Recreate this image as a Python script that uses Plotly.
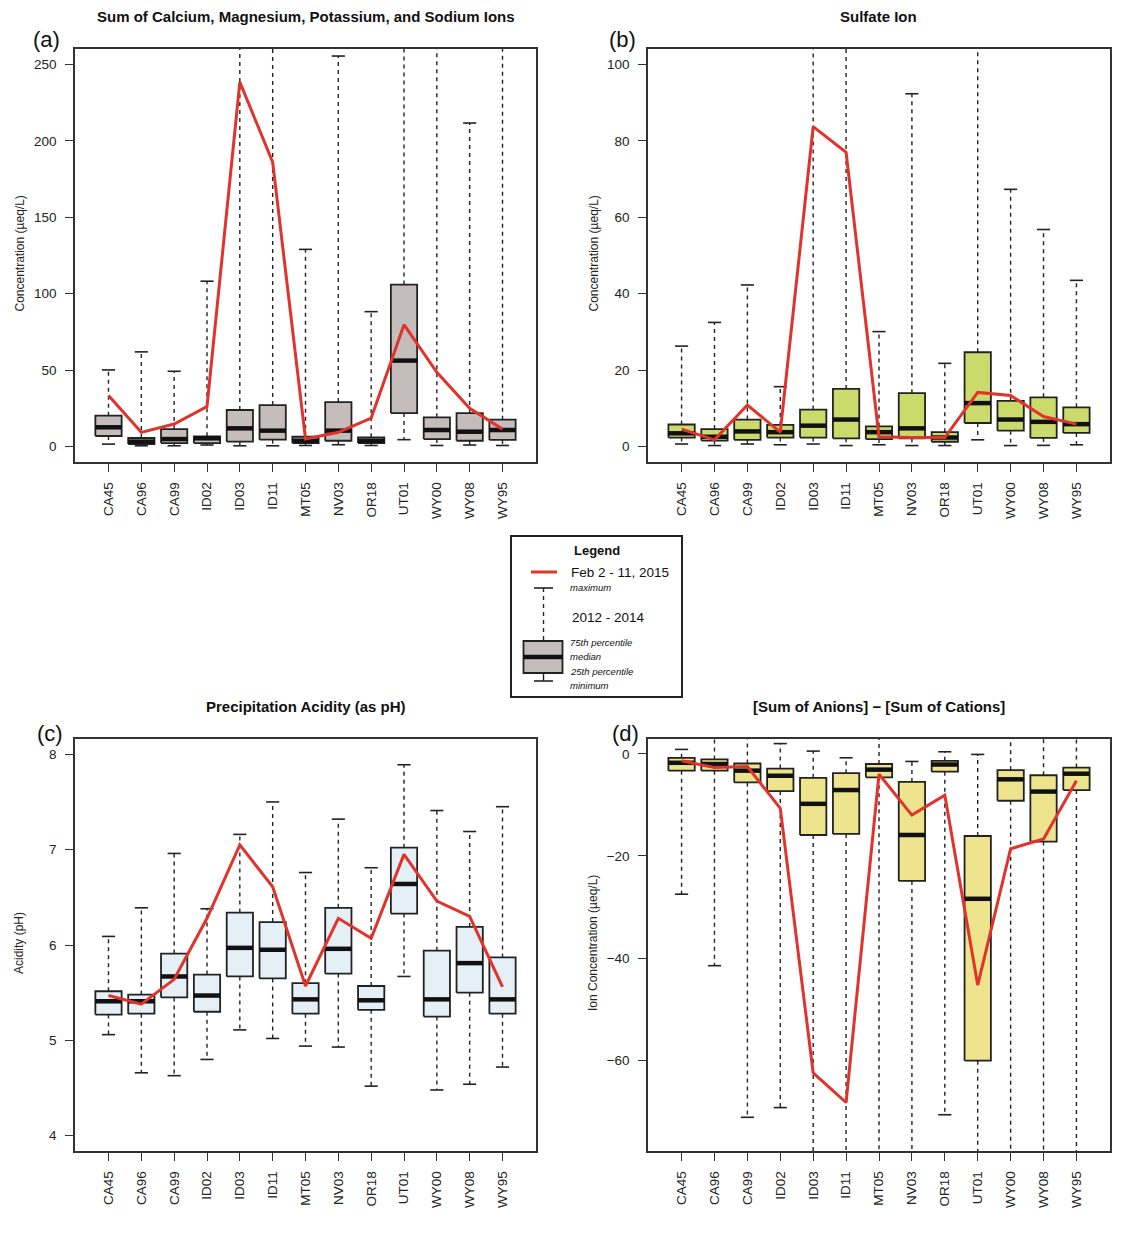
import plotly.graph_objects as go

PAGE_W, PAGE_H = 1139, 1237
OFF = 8  # default body margin of the html page
W, H = PAGE_W - OFF, PAGE_H - OFF
FONT = "Arial, Liberation Sans, sans-serif"

sites = ["CA45", "CA96", "CA99", "ID02", "ID03", "ID11", "MT05",
         "NV03", "OR18", "UT01", "WY00", "WY08", "WY95"]

# (a) Sum of Ca, Mg, K, Na (ueq/L)
a_min = [1.7, 0.6, 0.6, 1.1, 0.6, 0.6, 0.8, 1.3, 0.8, 4.6, 0.8, 1.1, 0.8]
a_q1  = [7.0, 1.7, 2.4, 2.4, 3.3, 4.6, 2.4, 3.9, 2.4, 22.0, 5.0, 3.9, 4.4]
a_med = [12.7, 3.3, 5.0, 5.5, 12.0, 10.5, 3.9, 10.5, 3.9, 56.3, 10.9, 9.8, 10.9]
a_q3  = [20.3, 5.7, 11.5, 6.8, 24.0, 27.2, 6.5, 29.2, 6.1, 106.0, 19.2, 22.0, 17.7]
a_max = [50.2, 62.0, 49.3, 108.2, 330.0, 290.0, 129.0, 255.4, 88.3, 420.0, 280.0, 211.6, 270.0]
a_2015 = [33.4, 9.4, 14.8, 26.2, 238.4, 186.0, 5.0, 9.4, 18.7, 79.8, 48.6, 25.1, 11.5]

# (b) Sulfate (ueq/L)
b_min = [0.7, 0.3, 0.7, 0.5, 0.7, 0.3, 0.5, 0.3, 0.3, 1.8, 0.3, 0.35, 0.5]
b_q1  = [2.4, 1.6, 1.8, 2.4, 2.4, 2.2, 2.0, 2.2, 1.3, 6.2, 4.2, 2.3, 3.6]
b_med = [3.5, 2.6, 4.0, 3.8, 5.5, 7.1, 3.8, 4.8, 2.4, 11.4, 7.1, 6.5, 5.9]
b_q3  = [5.8, 4.6, 7.1, 5.7, 9.7, 15.1, 5.3, 14.0, 3.8, 24.7, 12.0, 12.9, 10.3]
b_max = [26.3, 32.5, 42.3, 15.7, 130.0, 120.0, 30.1, 92.3, 21.8, 115.0, 67.3, 56.8, 43.5]
b_2015 = [4.6, 1.8, 10.9, 3.8, 83.7, 77.0, 2.6, 2.4, 2.4, 14.2, 13.4, 7.9, 5.9]

# (c) Precipitation acidity (pH)
c_min = [5.06, 4.66, 4.63, 4.80, 5.11, 5.02, 4.94, 4.93, 4.52, 5.67, 4.48, 4.54, 4.72]
c_q1  = [5.27, 5.28, 5.45, 5.30, 5.67, 5.65, 5.28, 5.70, 5.32, 6.33, 5.25, 5.50, 5.28]
c_med = [5.41, 5.41, 5.67, 5.47, 5.97, 5.95, 5.43, 5.96, 5.42, 6.64, 5.43, 5.81, 5.43]
c_q3  = [5.515, 5.48, 5.91, 5.69, 6.34, 6.24, 5.60, 6.39, 5.57, 7.02, 5.94, 6.19, 5.87]
c_max = [6.09, 6.39, 6.96, 6.38, 7.16, 7.50, 6.76, 7.32, 6.81, 7.89, 7.41, 7.19, 7.45]
c_2015 = [5.47, 5.38, 5.64, 6.28, 7.05, 6.61, 5.57, 6.28, 6.07, 6.95, 6.46, 6.30, 5.56]

# (d) [Sum of anions] - [Sum of cations] (ueq/L)
d_min = [-27.5, -41.5, -71.2, -69.3, -120.0, -140.0, -90.0, -100.0, -70.7, -170.0, -85.0, -95.0, -90.0]
d_q1  = [-3.3, -3.3, -5.6, -7.3, -15.9, -15.7, -4.6, -24.9, -3.5, -60.1, -9.2, -17.2, -7.1]
d_med = [-1.76, -2.0, -3.3, -4.3, -9.8, -7.1, -3.1, -15.9, -2.1, -28.4, -5.0, -7.4, -3.9]
d_q3  = [-0.78, -1.1, -1.9, -2.9, -4.7, -3.8, -2.0, -5.5, -1.37, -16.1, -3.2, -4.2, -2.7]
d_max = [0.86, 5.0, 6.0, 2.0, 0.53, -0.78, 8.0, -1.5, 0.4, -0.12, 4.0, 5.0, 5.0]
d_2015 = [-1.37, -2.7, -2.5, -10.7, -62.5, -68.3, -4.0, -12.0, -8.1, -45.3, -18.6, -16.7, -5.3]

titles = ["Sum of Calcium, Magnesium, Potassium, and Sodium Ions",
          "Sulfate Ion",
          "Precipitation Acidity (as pH)",
          "[Sum of Anions] \u2212 [Sum of Cations]"]
panel_labels = ["(a)", "(b)", "(c)", "(d)"]
ytitles = ["Concentration (\u00b5eq/L)", "Concentration (\u00b5eq/L)",
           "Acidity (pH)", "Ion Concentration (\u00b5eq/L)"]
yticks = [[0, 50, 100, 150, 200, 250], [0, 20, 40, 60, 80, 100],
          [4, 5, 6, 7, 8], [0, -20, -40, -60]]
yranges = [[-10, 260], [-4, 104], [3.84, 8.16], [-77.8, 2.9]]
fills = ["#C5BDBB", "#CBDB6B", "#E5EFF6", "#EEE48E"]
RED = "#E0332B"
DARK = "#222222"

legend_label = "Feb 2 - 11, 2015"
legend_period = "2012 - 2014"
legend_items = ["maximum", "75th percentile", "median", "25th percentile", "minimum"]

panels = [
    (a_min, a_q1, a_med, a_q3, a_max, a_2015),
    (b_min, b_q1, b_med, b_q3, b_max, b_2015),
    (c_min, c_q1, c_med, c_q3, c_max, c_2015),
    (d_min, d_q1, d_med, d_q3, d_max, d_2015),
]

# plot-area pixel boxes on the page (left, top, right, bottom)
boxes_px = [(75, 49, 536, 462), (648, 49, 1110, 462),
            (75, 739, 536, 1151), (648, 739, 1110, 1151)]


def px(x):
    return (x - OFF) / W


def py(y):
    return 1 - (y - OFF) / H


fig = go.Figure()
BW = 0.4   # box half width
CW = 0.2   # cap half width

for k, (mn, q1, md, q3, mx, red) in enumerate(panels):
    xa = "x" if k == 0 else f"x{k+1}"
    ya = "y" if k == 0 else f"y{k+1}"
    pos = list(range(1, len(sites) + 1))
    wx, wy, cx, cy, bx, by, mxs, mys = [], [], [], [], [], [], [], []
    for i, p in enumerate(pos):
        wx += [p, p, None, p, p, None]
        wy += [q3[i], mx[i], None, q1[i], mn[i], None]
        cx += [p - CW, p + CW, None, p - CW, p + CW, None]
        cy += [mx[i], mx[i], None, mn[i], mn[i], None]
        bx += [p - BW, p + BW, p + BW, p - BW, p - BW, None]
        by += [q1[i], q1[i], q3[i], q3[i], q1[i], None]
        mxs += [p - BW, p + BW, None]
        mys += [md[i], md[i], None]
    fig.add_trace(go.Scatter(x=wx, y=wy, mode="lines", xaxis=xa, yaxis=ya,
                             line=dict(color=DARK, width=1.4, dash="4px,4px"),
                             hoverinfo="skip", showlegend=False))
    fig.add_trace(go.Scatter(x=cx, y=cy, mode="lines", xaxis=xa, yaxis=ya,
                             line=dict(color=DARK, width=1.6),
                             hoverinfo="skip", showlegend=False))
    fig.add_trace(go.Scatter(x=bx, y=by, mode="lines", fill="toself",
                             fillcolor=fills[k], xaxis=xa, yaxis=ya,
                             line=dict(color=DARK, width=1.8),
                             hoverinfo="skip", showlegend=False))
    fig.add_trace(go.Scatter(x=mxs, y=mys, mode="lines", xaxis=xa, yaxis=ya,
                             line=dict(color="#111111", width=4.5),
                             hoverinfo="skip", showlegend=False))
    fig.add_trace(go.Scatter(x=pos, y=red, mode="lines", xaxis=xa, yaxis=ya,
                             line=dict(color=RED, width=3),
                             hoverinfo="skip", showlegend=False))

    l, t, r, b = boxes_px[k]
    axis_common = dict(showline=True, mirror=True, linecolor="#333333",
                       linewidth=1.5, showgrid=False, zeroline=False,
                       ticks="outside", ticklen=8, tickwidth=1.3,
                       tickcolor="#333333",
                       tickfont=dict(family=FONT, size=13.5, color="#222222"))
    xkey = "xaxis" if k == 0 else f"xaxis{k+1}"
    ykey = "yaxis" if k == 0 else f"yaxis{k+1}"
    fig.update_layout(**{
        xkey: dict(domain=[px(l), px(r)], anchor=ya, range=[-0.02, len(sites) + 1.02],
                   tickvals=pos, ticktext=sites, tickangle=-90,
                   ticklabelstandoff=5, **axis_common),
        ykey: dict(domain=[py(b), py(t)], anchor=xa, range=yranges[k],
                   tickvals=yticks[k], ticklabelstandoff=6, **axis_common),
    })
    cxp = (l + r) / 2
    ty = 17 if k < 2 else 706
    fig.add_annotation(x=px(cxp), y=py(ty), xref="paper", yref="paper",
                       text=f"<b>{titles[k]}</b>", showarrow=False,
                       xanchor="center", yanchor="middle",
                       font=dict(family=FONT, size=15, color="#111111"))
    lx = 46 if k == 0 else 622 if k == 1 else 50 if k == 2 else 625
    ly = 40 if k < 2 else 733
    fig.add_annotation(x=px(lx), y=py(ly), xref="paper", yref="paper",
                       text=panel_labels[k], showarrow=False,
                       xanchor="center", yanchor="middle",
                       font=dict(family=FONT, size=22, color="#111111"))
    atx = 19 if k % 2 == 0 else 593
    fig.add_annotation(x=px(atx), y=py((t + b) / 2 - 2), xref="paper", yref="paper",
                       text=ytitles[k], showarrow=False, textangle=-90,
                       xanchor="center", yanchor="middle",
                       font=dict(family=FONT, size=12, color="#222222"))

# ---- legend box (drawn in paper coordinates) ----
shapes = []


def seg(x0, y0, x1, y1, color, width, dash="solid"):
    shapes.append(dict(type="line", xref="paper", yref="paper",
                       x0=px(x0), y0=py(y0), x1=px(x1), y1=py(y1),
                       line=dict(color=color, width=width, dash=dash)))


shapes.append(dict(type="rect", xref="paper", yref="paper",
                   x0=px(511), y0=py(697), x1=px(682), y1=py(536),
                   line=dict(color="#222222", width=2), fillcolor="white"))
seg(531, 572, 557, 572, RED, 3)
seg(534, 588, 553, 588, DARK, 1.6)
seg(543.5, 588, 543.5, 641, DARK, 1.4, "4px,4px")
shapes.append(dict(type="rect", xref="paper", yref="paper",
                   x0=px(523.5), y0=py(673), x1=px(562.5), y1=py(641),
                   line=dict(color=DARK, width=1.8), fillcolor=fills[0]))
seg(523.5, 657, 562.5, 657, "#111111", 4.5)
seg(543.5, 673, 543.5, 681, DARK, 1.4)
seg(534, 681, 553, 681, DARK, 1.6)
fig.update_layout(shapes=shapes)

fig.add_annotation(x=px(597), y=py(550.5), xref="paper", yref="paper",
                   text="<b>Legend</b>", showarrow=False, xanchor="center",
                   yanchor="middle", font=dict(family=FONT, size=13, color="#111111"))
fig.add_annotation(x=px(569), y=py(572.5), xref="paper", yref="paper",
                   text=legend_label, showarrow=False, xanchor="left",
                   yanchor="middle", font=dict(family=FONT, size=13.5, color="#111111"))
fig.add_annotation(x=px(569.5), y=py(617), xref="paper", yref="paper",
                   text=legend_period, showarrow=False, xanchor="left",
                   yanchor="middle", font=dict(family=FONT, size=13.5, color="#111111"))
for txt, yy in zip(legend_items, [587.5, 642, 656.5, 671, 685]):
    fig.add_annotation(x=px(567.5), y=py(yy), xref="paper", yref="paper",
                       text=f"<i>{txt}</i>", showarrow=False, xanchor="left",
                       yanchor="middle", font=dict(family=FONT, size=9.5, color="#111111"))

fig.update_layout(width=W, height=H, margin=dict(l=0, r=0, t=0, b=0),
                  paper_bgcolor="white", plot_bgcolor="white",
                  showlegend=False, font=dict(family=FONT))

fig.write_html("out.html")
